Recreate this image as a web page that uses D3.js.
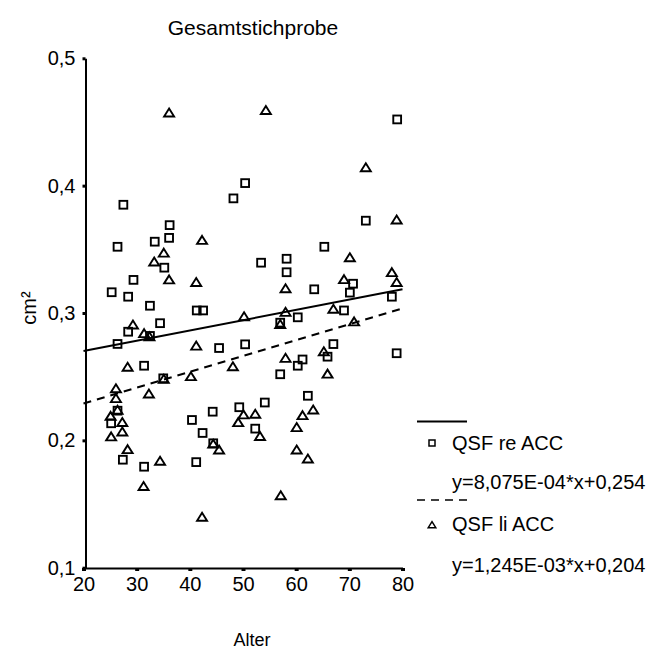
<!DOCTYPE html>
<html>
<head>
<meta charset="utf-8">
<script src="https://cdn.jsdelivr.net/npm/d3@7"></script>
<style>
  html, body { margin: 0; padding: 0; background: #fff; }
  svg { display: block; }
  text { font-family: "Liberation Sans", Arial, Helvetica, sans-serif; fill: #000; }
</style>
</head>
<body>
<svg id="chart" width="660" height="650"></svg>
<script>
// ---- data ----
const title = "Gesamtstichprobe";
const xLabel = "Alter";
const yLabel = "cm²";
const xTicks = [20, 30, 40, 50, 60, 70, 80];
const yTicks = [0.1, 0.2, 0.3, 0.4, 0.5];

// QSF re ACC (squares): [Alter, cm²]
const reAge = [27.5,50.4,48.2,36.2,79.0,73.1,26.4,33.4,36.1,35.2,29.4,25.3,28.4,32.5,41.3,42.5,34.4,28.4,32.5,26.4,
  45.5,50.4,31.4,35.0,26.4,25.2,40.4,44.3,49.3,65.3,53.4,58.2,58.2,63.4,70.7,70.1,78.0,69.0,60.3,57.0,
  67.0,65.9,61.2,60.3,57.0,78.9,62.2,54.1,52.3,27.4,31.4,42.4,41.2,44.4];
const reVal = [0.385,0.402,0.390,0.369,0.452,0.3725,0.352,0.356,0.359,0.3356,0.326,0.3163,0.3128,0.3057,0.302,0.302,0.292,0.2853,0.282,0.2757,
  0.2725,0.2754,0.2586,0.2487,0.2233,0.2134,0.216,0.2225,0.226,0.352,0.3395,0.3426,0.332,0.3186,0.323,0.316,0.3128,0.302,0.2966,0.2924,
  0.2756,0.2657,0.2635,0.2586,0.2519,0.2684,0.235,0.2297,0.2092,0.1848,0.1793,0.2058,0.1829,0.1977];

// QSF li ACC (triangles): [Alter, cm²]
const liAge = [36.1,54.3,73.1,78.9,42.3,35.1,33.3,36.1,41.2,50.2,29.3,31.4,32.4,41.2,48.1,28.3,35.1,40.2,32.3,26.1,
  26.1,26.4,25.1,27.3,50.1,49.1,70.1,78.0,78.9,69.0,58.0,58.0,67.0,57.0,70.9,65.2,58.0,65.9,63.2,61.2,
  52.3,60.1,25.2,27.3,28.3,34.4,31.3,44.4,45.5,42.3,53.2,60.1,62.2,57.1];
const liVal = [0.457,0.459,0.414,0.373,0.357,0.347,0.340,0.326,0.324,0.297,0.2906,0.2838,0.2814,0.274,0.2578,0.2574,0.248,0.250,0.2364,0.2405,
  0.2328,0.2236,0.2188,0.214,0.220,0.2139,0.3434,0.3317,0.324,0.3262,0.319,0.3005,0.303,0.291,0.293,0.2696,0.2644,0.252,0.2238,0.2194,
  0.2205,0.2100,0.2027,0.2066,0.1927,0.1836,0.1638,0.197,0.1924,0.1396,0.203,0.1924,0.1854,0.1565];

// regression lines: [slope, intercept]
const seriesNames = ["QSF re ACC", "QSF li ACC"];
const fitSlope = [8.075e-4, 1.245e-3];
const fitIntercept = [0.254, 0.204];
const fitLabels = ["y=8,075E-04*x+0,254", "y=1,245E-03*x+0,204"];

// ---- drawing ----
const svg = d3.select("#chart");
const x = d3.scaleLinear().domain([20, 80]).range([83.5, 402.5]);
const y = d3.scaleLinear().domain([0.1, 0.5]).range([567.7, 58.3]);
const fmt = d => d3.format(".1f")(d).replace(".", ",");
const FS = 20;

svg.append("text").attr("x", 253).attr("y", 35).attr("text-anchor", "middle")
  .style("font-size", "21px").text(title);

// y axis
const gy = svg.append("g").attr("transform", "translate(85.5,0)")
  .call(d3.axisLeft(y).tickValues(yTicks).tickFormat(fmt).tickSizeInner(3).tickSizeOuter(0).tickPadding(7));
gy.select(".domain").attr("stroke", "#000").attr("stroke-width", 2);
gy.selectAll(".tick line").attr("stroke", "#000").attr("stroke-width", 3);
gy.selectAll(".tick text").style("font-size", FS + "px").attr("font-family", null);

// x axis
const gx = svg.append("g").attr("transform", "translate(0,568)")
  .call(d3.axisBottom(x).tickValues(xTicks).tickFormat(d3.format("d")).tickSizeInner(3).tickSizeOuter(0).tickPadding(6));
gx.select(".domain").attr("stroke", "#000").attr("stroke-width", 2);
gx.selectAll(".tick line").attr("stroke", "#000").attr("stroke-width", 4);
gx.selectAll(".tick text").style("font-size", FS + "px").attr("font-family", null);

svg.append("text").attr("x", 252).attr("y", 646).attr("text-anchor", "middle")
  .style("font-size", "18px").text(xLabel);
svg.append("text").attr("transform", "translate(36,308) rotate(-90)").attr("text-anchor", "middle")
  .style("font-size", FS + "px").text(yLabel);

// regression lines
const line = d3.line().x(d => x(d[0])).y(d => y(d[1]));
[0, 1].forEach(i => {
  const pts = [20, 80].map(a => [a, fitIntercept[i] + fitSlope[i] * a]);
  svg.append("path").attr("d", line(pts)).attr("fill", "none").attr("stroke", "#000")
    .attr("stroke-width", 2).attr("stroke-dasharray", i === 1 ? "8,6" : null);
});

// markers
const triPath = s => `M0,${-0.9*s} L${s},${0.7*s} L${-s},${0.7*s} Z`;
const reData = reAge.map((a, i) => [a, reVal[i]]);
const liData = liAge.map((a, i) => [a, liVal[i]]);
svg.append("g").selectAll("rect").data(reData).join("rect")
  .attr("x", d => x(d[0]) - 3.9).attr("y", d => y(d[1]) - 3.9)
  .attr("width", 7.8).attr("height", 7.8)
  .attr("fill", "none").attr("stroke", "#000").attr("stroke-width", 1.9);
svg.append("g").selectAll("path").data(liData).join("path")
  .attr("transform", d => `translate(${x(d[0])},${y(d[1])})`)
  .attr("d", triPath(5))
  .attr("fill", "none").attr("stroke", "#000").attr("stroke-width", 1.9).attr("stroke-linejoin", "miter");

// legend
const lg = svg.append("g");
lg.append("line").attr("x1", 417).attr("x2", 467).attr("y1", 421.5).attr("y2", 421.5)
  .attr("stroke", "#000").attr("stroke-width", 2);
lg.append("rect").attr("x", 429).attr("y", 440).attr("width", 6).attr("height", 6)
  .attr("fill", "none").attr("stroke", "#000").attr("stroke-width", 1.5);
lg.append("text").attr("x", 452).attr("y", 449.5).style("font-size", FS + "px").text(seriesNames[0]);
lg.append("text").attr("x", 452).attr("y", 489).style("font-size", FS + "px").text(fitLabels[0]);
lg.append("line").attr("x1", 417).attr("x2", 467).attr("y1", 500).attr("y2", 500)
  .attr("stroke", "#000").attr("stroke-width", 1.5).attr("stroke-dasharray", "8,6");
lg.append("path").attr("transform", "translate(432,525)").attr("d", triPath(3.8))
  .attr("fill", "none").attr("stroke", "#000").attr("stroke-width", 1.5);
lg.append("text").attr("x", 452).attr("y", 531).style("font-size", FS + "px").text(seriesNames[1]);
lg.append("text").attr("x", 452).attr("y", 572).style("font-size", FS + "px").text(fitLabels[1]);
</script>
</body>
</html>
